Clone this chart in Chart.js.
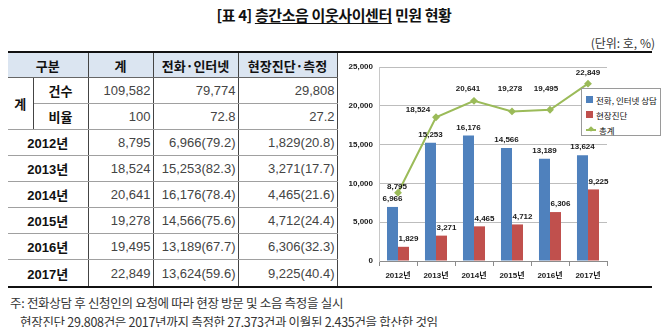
<!DOCTYPE html>
<html>
<head>
<meta charset="utf-8">
<script src="https://cdn.jsdelivr.net/npm/chart.js@4"></script>
<style>
body{margin:0;width:668px;height:327px;background:#fff;position:relative;overflow:hidden;color:#222;
  font-family:"Liberation Sans","Noto Sans CJK KR",sans-serif}
.title{position:absolute;top:4px;left:0;width:668px;text-align:center;
  font:bold 15px "Noto Sans CJK KR",sans-serif;letter-spacing:-0.4px;color:#111}
.title u{text-underline-offset:2px}
.unit{position:absolute;top:34px;right:13px;font:12px "Noto Sans CJK KR",sans-serif;color:#333}
.rule{position:absolute;left:8px;width:644px;height:2px;background:#111}
#tbl{position:absolute;left:8px;top:53px;border-collapse:collapse;table-layout:fixed;width:329px}
#tbl th,#tbl td{padding:0;height:25px;border-bottom:1px solid #a0a0a0;border-right:1px solid #444;font-size:13px}
#tbl thead th{background:#dbe5f1;font:bold 13px "Noto Sans CJK KR",sans-serif;color:#111;height:24px;border-bottom:1px solid #666}
#tbl td.h{font:bold 13px "Liberation Sans","Noto Sans CJK KR",sans-serif;text-align:center;color:#111}
#tbl td.n{text-align:right;padding-right:2px;color:#444}
#tbl tr.last td{height:27px;border-bottom:none}
#wrap{position:absolute;left:340px;top:55px;width:328px;height:232px}
#legend{position:absolute;left:581px;top:88px;width:80px;height:48px;border:1px solid #9a9a9a;background:#fff;
  font:8.5px "Noto Sans CJK KR",sans-serif;color:#111;padding-top:3px;box-sizing:border-box}
#legend div{height:15px;display:flex;align-items:center;white-space:nowrap}
#legend i{display:inline-block;margin:0 3px 0 4px}
.note{position:absolute;left:10px;top:293px;font:12.5px "Noto Sans CJK KR",sans-serif;color:#333;line-height:19px;letter-spacing:-0.3px}
</style>
</head>
<body>
<div class="title">[표 4] <u>층간소음 이웃사이센터</u> 민원 현황</div>
<div class="unit">(단위: 호, %)</div>
<div class="rule" style="top:51px"></div>
<table id="tbl">
  <colgroup><col style="width:25px"><col style="width:55px"><col style="width:65px"><col style="width:85px"><col style="width:99px"></colgroup>
  <thead><tr id="head"></tr></thead>
  <tbody id="tbody"></tbody>
</table>
<div class="rule" style="top:286px"></div>
<div id="wrap"><canvas id="chart"></canvas></div>
<div id="legend"></div>
<div class="note">주: 전화상담 후 신청인의 요청에 따라 현장 방문 및 소음 측정을 실시<br>
&nbsp;&nbsp;&nbsp;&nbsp;현장진단 29,808건은 2017년까지 측정한 27,373건과 이월된 2,435건을 합산한 것임</div>

<script>
const columns = ['구분', '계', '전화·인터넷', '현장진단·측정'];
const years = ['2012년', '2013년', '2014년', '2015년', '2016년', '2017년'];
const totalCounts = [8795, 18524, 20641, 19278, 19495, 22849];
const phoneCounts = [6966, 15253, 16176, 14566, 13189, 13624];
const siteCounts = [1829, 3271, 4465, 4712, 6306, 9225];
const phoneShare = [79.2, 82.3, 78.4, 75.6, 67.7, 59.6];
const siteShare = [20.8, 17.7, 21.6, 24.4, 32.3, 40.4];
const sumCounts = [109582, 79774, 29808];
const sumShare = ['100', '72.8', '27.2'];
const yTicks = [0, 5000, 10000, 15000, 20000, 25000];
const seriesNames = ['전화, 인터넷 상담', '현장진단', '총계'];

const fmt = v => v.toLocaleString('en-US');

// table
document.getElementById('head').innerHTML =
  '<th colspan="2">' + columns[0] + '</th>' + columns.slice(1).map(c => '<th>' + c + '</th>').join('');
let rows = '';
rows += '<tr><td class="h" rowspan="2" style="border-bottom:1px solid #a0a0a0">계</td><td class="h">건수</td>' +
  sumCounts.map(v => '<td class="n">' + fmt(v) + '</td>').join('') + '</tr>';
rows += '<tr><td class="h">비율</td>' + sumShare.map(v => '<td class="n">' + v + '</td>').join('') + '</tr>';
years.forEach((y, i) => {
  rows += '<tr' + (i === years.length - 1 ? ' class="last"' : '') + '><td class="h" colspan="2">' + y + '</td>' +
    '<td class="n">' + fmt(totalCounts[i]) + '</td>' +
    '<td class="n">' + fmt(phoneCounts[i]) + '(' + phoneShare[i].toFixed(1) + ')</td>' +
    '<td class="n">' + fmt(siteCounts[i]) + '(' + siteShare[i].toFixed(1) + ')</td></tr>';
});
document.getElementById('tbody').innerHTML = rows;

// chart
const BLUE = '#4f81bd', RED = '#c0504d', GREEN = '#9bbb59';
const labelFont = 'bold 8px "Liberation Sans","Noto Sans CJK KR",sans-serif';

const valueLabels = {
  id: 'valueLabels',
  afterDatasetsDraw(chart) {
    const ctx = chart.ctx;
    ctx.save();
    ctx.font = labelFont;
    ctx.fillStyle = '#1a1a1a';
    ctx.textAlign = 'center';
    ctx.textBaseline = 'middle';
    chart.data.datasets.forEach((ds, i) => {
      const off = ds.labelOffset;
      chart.getDatasetMeta(i).data.forEach((el, j) => {
        const dx = Array.isArray(off.dx) ? off.dx[j] : off.dx;
        const dy = Array.isArray(off.dy) ? off.dy[j] : off.dy;
        ctx.fillText(fmt(ds.data[j]), el.x + dx, el.y + dy);
      });
    });
    ctx.restore();
  }
};

new Chart(document.getElementById('chart'), {
  data: {
    labels: years,
    datasets: [
      {type: 'line', label: seriesNames[2], data: totalCounts, order: 0,
       borderColor: GREEN, borderWidth: 2, backgroundColor: GREEN,
       pointStyle: 'rectRot', pointRadius: 2.5, tension: 0,
       labelOffset: {dx: [-1, -18, -6, -2, -4, 0], dy: [-6, -7, -12, -23, -21, -11]}},
      {type: 'bar', label: seriesNames[0], data: phoneCounts, order: 1,
       backgroundColor: BLUE, labelOffset: {dx: 0, dy: -8}},
      {type: 'bar', label: seriesNames[1], data: siteCounts, order: 1,
       backgroundColor: RED, labelOffset: {dx: 5, dy: -8}}
    ]
  },
  options: {
    responsive: true, maintainAspectRatio: false, animation: false,
    layout: {padding: {top: 12, right: 61, left: 0, bottom: 0}},
    datasets: {bar: {categoryPercentage: 0.58, barPercentage: 1}},
    plugins: {legend: {display: false}, tooltip: {enabled: false}},
    scales: {
      x: {
        grid: {display: true, drawOnChartArea: false, tickLength: 5, color: '#8c8c8c', offset: true},
        border: {color: '#8c8c8c'},
        ticks: {font: {size: 8, weight: 'bold', family: '"Liberation Sans","Noto Sans CJK KR"'}, color: '#1a1a1a', padding: 5},
        afterFit: s => { s.height = 26; }
      },
      y: {
        min: yTicks[0], max: yTicks[yTicks.length - 1],
        afterBuildTicks: s => { s.ticks = yTicks.map(v => ({value: v})); },
        grid: {color: '#bdbdbd', drawTicks: false},
        border: {color: '#c8c8c8'},
        ticks: {callback: v => fmt(v), font: {size: 8, weight: 'bold', family: '"Liberation Sans"'}, color: '#1a1a1a', padding: 6},
        afterFit: s => { s.width = 39; }
      }
    }
  },
  plugins: [valueLabels]
});

// legend box
const swatches = [
  '<i style="width:7px;height:7px;background:' + BLUE + '"></i>',
  '<i style="width:7px;height:7px;background:' + RED + '"></i>',
  '<i style="width:10px;height:2px;background:' + GREEN + ';position:relative"><b style="position:absolute;left:3px;top:-2px;width:4px;height:4px;background:' + GREEN + ';transform:rotate(45deg)"></b></i>'
];
document.getElementById('legend').innerHTML =
  seriesNames.map((n, i) => '<div>' + swatches[i] + n + '</div>').join('');
</script>
</body>
</html>
